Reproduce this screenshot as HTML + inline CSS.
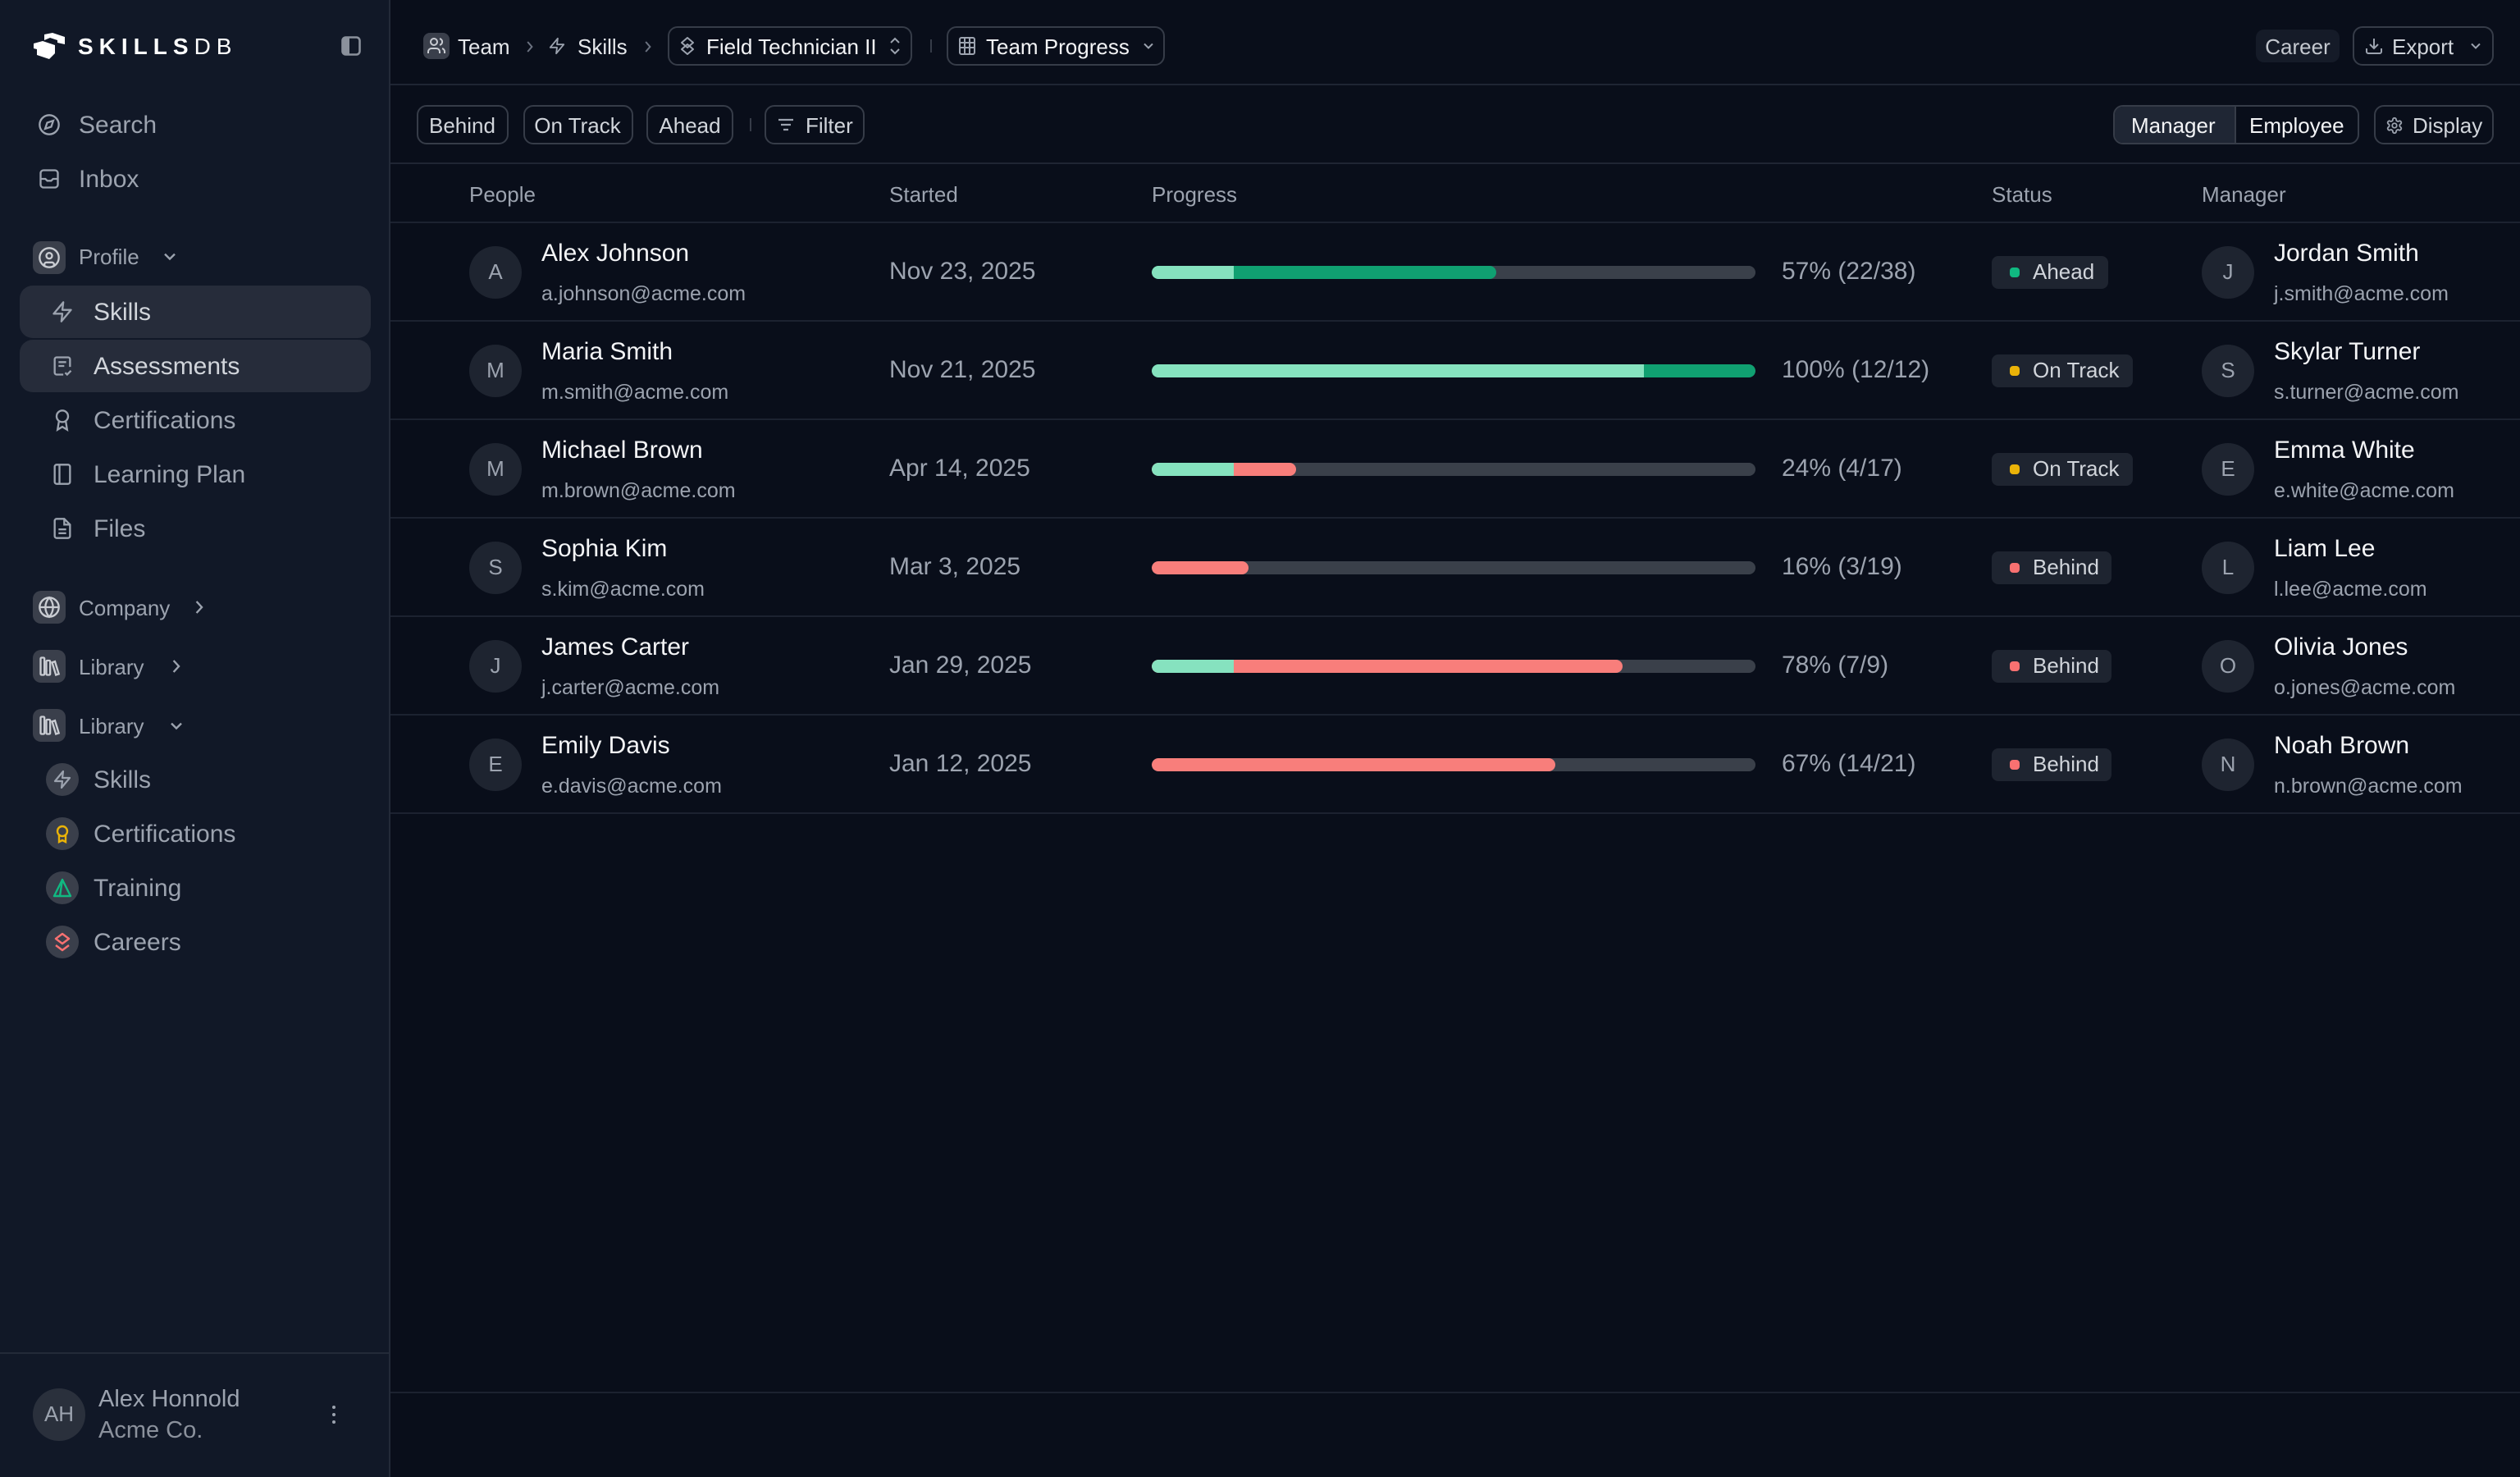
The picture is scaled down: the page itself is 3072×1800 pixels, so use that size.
<!DOCTYPE html>
<html><head><meta charset="utf-8">
<style>
html,body{margin:0;padding:0;background:#090e1a;}
body{width:3072px;height:1800px;overflow:hidden;position:relative;}
#app{position:absolute;left:0;top:0;width:1536px;height:900px;transform:scale(2);transform-origin:0 0;background:#090e1a;font-family:"Liberation Sans",sans-serif;color:#e5e7eb;overflow:hidden;}
.a{position:absolute;white-space:nowrap;}
.t{position:absolute;white-space:nowrap;line-height:20px;height:20px;margin-top:0.8px;}
.ln{position:absolute;background:#1c2230;height:1px;}
.btn{position:absolute;box-sizing:border-box;border:1px solid #363c48;border-radius:6px;height:24px;font-size:13px;color:#d1d5db;line-height:22px;}
.ib{position:absolute;width:20px;height:20px;border-radius:5px;background:#3a3f4b;}
.ib svg{position:absolute;left:3px;top:3px;}
.sc{position:absolute;width:20px;height:20px;border-radius:10px;background:#3a3f4b;left:28px;}
.sc svg{position:absolute;left:4px;top:4px;}
.av{position:absolute;width:32px;height:32px;border-radius:16px;background:#1e2430;color:#9ca3af;font-size:13px;text-align:center;line-height:32px;}
.nm{font-size:15px;color:#f3f4f6;}
.em{font-size:12.5px;color:#9ca3af;}
.gr{color:#9ca3af;}
.track{position:absolute;left:702px;width:367.5px;height:8px;border-radius:4px;background:#3a404a;overflow:hidden;}
.fill{position:absolute;left:0;top:0;height:8px;border-radius:4px;overflow:hidden;}
.lt{position:absolute;left:0;top:0;height:8px;background:#86e2bf;}
.badge{position:absolute;left:1214px;height:20px;border-radius:4px;background:#1e2430;font-size:13px;color:#d1d5db;line-height:20px;box-sizing:border-box;padding-left:25px;padding-right:8px;}
.badge i{position:absolute;left:11px;top:7px;width:6px;height:6px;border-radius:2px;}
</style></head><body><div id="app">

<!-- Sidebar -->
<div class="a" style="left:0;top:0;width:237px;height:900px;background:#111827;border-right:1px solid #232a38;"></div>
<div class="a" style="left:0;top:824px;width:237px;height:1px;background:#232a38;"></div>

<!-- Logo -->
<svg class="a" style="left:20px;top:20px" width="20" height="16" viewBox="0 0 40 32">
<path d="M14 2 L24 0 L39 5 L39 14 L30 12 L30 9 L21 6 L14 9 Z" fill="#fff"/>
<path d="M1 13 L12 10 L27 15 L27 25 L20 32 L5 27 L5 20 L1 19 Z" fill="#fff"/>
</svg>
<div class="t" style="left:47.5px;top:17.5px;font-size:14px;letter-spacing:3.5px;color:#fff;"><b>SKILLS</b>DB</div>
<svg class="a" style="left:208px;top:22px" width="12" height="12" viewBox="0 0 12 12"><rect x="0.75" y="0.75" width="10.5" height="10.5" rx="2" fill="none" stroke="#8b919c" stroke-width="1.3"/><rect x="1" y="1" width="4" height="10" fill="#8b919c"/></svg>

<!-- Search / Inbox -->
<svg class="a" style="left:23px;top:69px" width="14" height="14" viewBox="0 0 24 24" fill="none" stroke="#9ca3af" stroke-width="2"><circle cx="12" cy="12" r="10"/><polygon points="16.24 7.76 14.12 14.12 7.76 16.24 9.88 9.88 16.24 7.76"/></svg>
<div class="t gr" style="left:48px;top:66px;font-size:15px;">Search</div>
<svg class="a" style="left:23px;top:102px" width="14" height="14" viewBox="0 0 24 24" fill="none" stroke="#9ca3af" stroke-width="2"><rect x="3" y="3" width="18" height="18" rx="3"/><path d="M3 12h5l2 2h4l2-2h5"/></svg>
<div class="t gr" style="left:48px;top:99px;font-size:15px;">Inbox</div>

<!-- Profile -->
<div class="ib" style="left:20px;top:146.5px;"><svg width="14" height="14" viewBox="0 0 24 24" fill="none" stroke="#c9ccd2" stroke-width="2"><circle cx="12" cy="12" r="10"/><circle cx="12" cy="10" r="3"/><path d="M7 20.5V19a2 2 0 0 1 2-2h6a2 2 0 0 1 2 2v1.5"/></svg></div>
<div class="t gr" style="left:48px;top:146.5px;font-size:13px;">Profile</div>
<svg class="a" style="left:100px;top:154px" width="7" height="5" viewBox="0 0 7 5"><polyline points="0.5,0.8 3.5,3.8 6.5,0.8" fill="none" stroke="#9ca3af" stroke-width="1.2"/></svg>

<div class="a" style="left:12px;top:174px;width:214px;height:32px;border-radius:8px;background:#262c3a;"></div>
<div class="a" style="left:12px;top:207px;width:214px;height:32px;border-radius:8px;background:#262c3a;"></div>
<svg class="a" style="left:31px;top:183px" width="14" height="14" viewBox="0 0 24 24" fill="none" stroke="#9ca3af" stroke-width="2" stroke-linejoin="round"><path d="M13 2 3 14h9l-1 8 10-12h-9l1-8z"/></svg>
<div class="t" style="left:57px;top:180px;font-size:15px;color:#d1d5db;">Skills</div>
<svg class="a" style="left:31px;top:216px" width="14" height="14" viewBox="0 0 24 24" fill="none" stroke="#9ca3af" stroke-width="2"><path d="M20 13V5a2 2 0 0 0-2-2H6a2 2 0 0 0-2 2v14a2 2 0 0 0 2 2h7"/><path d="M8 8h8M8 12h6"/><path d="m15 19 2 2 4-4"/></svg>
<div class="t" style="left:57px;top:213px;font-size:15px;color:#d1d5db;">Assessments</div>
<svg class="a" style="left:31px;top:249px" width="14" height="14" viewBox="0 0 24 24" fill="none" stroke="#9ca3af" stroke-width="2"><circle cx="12" cy="8" r="6"/><path d="M15.5 12.9 17 22l-5-3-5 3 1.5-9.1"/></svg>
<div class="t gr" style="left:57px;top:246px;font-size:15px;">Certifications</div>
<svg class="a" style="left:31px;top:282px" width="14" height="14" viewBox="0 0 24 24" fill="none" stroke="#9ca3af" stroke-width="2"><rect x="4" y="2" width="16" height="20" rx="2"/><path d="M9 2v20"/></svg>
<div class="t gr" style="left:57px;top:279px;font-size:15px;">Learning Plan</div>
<svg class="a" style="left:31px;top:315px" width="14" height="14" viewBox="0 0 24 24" fill="none" stroke="#9ca3af" stroke-width="2"><path d="M14 2H6a2 2 0 0 0-2 2v16a2 2 0 0 0 2 2h12a2 2 0 0 0 2-2V8z"/><polyline points="14 2 14 8 20 8"/><line x1="16" y1="13" x2="8" y2="13"/><line x1="16" y1="17" x2="8" y2="17"/></svg>
<div class="t gr" style="left:57px;top:312px;font-size:15px;">Files</div>

<!-- Company / Library -->
<div class="ib" style="left:20px;top:360px;"><svg width="14" height="14" viewBox="0 0 24 24" fill="none" stroke="#c9ccd2" stroke-width="2"><circle cx="12" cy="12" r="10"/><line x1="2" y1="12" x2="22" y2="12"/><path d="M12 2a15 15 0 0 1 4 10 15 15 0 0 1-4 10 15 15 0 0 1-4-10 15 15 0 0 1 4-10z"/></svg></div>
<div class="t gr" style="left:48px;top:360px;font-size:13px;">Company</div>
<svg class="a" style="left:119px;top:366px" width="5" height="8" viewBox="0 0 5 8"><polyline points="0.8,0.5 4,4 0.8,7.5" fill="none" stroke="#9ca3af" stroke-width="1.2"/></svg>

<div class="ib" style="left:20px;top:396px;"><svg width="14" height="14" viewBox="0 0 24 24" fill="none" stroke="#c9ccd2" stroke-width="2"><rect x="3" y="3" width="4" height="18" rx="1"/><rect x="9" y="6" width="4" height="15" rx="1"/><path d="m15 8 3-1 4 13-3 1z"/></svg></div>
<div class="t gr" style="left:48px;top:396px;font-size:13px;">Library</div>
<svg class="a" style="left:105px;top:402px" width="5" height="8" viewBox="0 0 5 8"><polyline points="0.8,0.5 4,4 0.8,7.5" fill="none" stroke="#9ca3af" stroke-width="1.2"/></svg>

<div class="ib" style="left:20px;top:432px;"><svg width="14" height="14" viewBox="0 0 24 24" fill="none" stroke="#c9ccd2" stroke-width="2"><rect x="3" y="3" width="4" height="18" rx="1"/><rect x="9" y="6" width="4" height="15" rx="1"/><path d="m15 8 3-1 4 13-3 1z"/></svg></div>
<div class="t gr" style="left:48px;top:432px;font-size:13px;">Library</div>
<svg class="a" style="left:103.5px;top:439.5px" width="7" height="5" viewBox="0 0 7 5"><polyline points="0.5,0.8 3.5,3.8 6.5,0.8" fill="none" stroke="#9ca3af" stroke-width="1.2"/></svg>

<div class="sc" style="top:465px;"><svg width="12" height="12" viewBox="0 0 24 24" fill="none" stroke="#9ca3af" stroke-width="2.2" stroke-linejoin="round"><path d="M13 2 3 14h9l-1 8 10-12h-9l1-8z"/></svg></div>
<div class="t gr" style="left:57px;top:465px;font-size:15px;">Skills</div>
<div class="sc" style="top:498px;"><svg width="12" height="12" viewBox="0 0 24 24" fill="none" stroke="#eab308" stroke-width="2.4"><circle cx="12" cy="9" r="6"/><path d="M8 14v8l4-2 4 2v-8"/></svg></div>
<div class="t gr" style="left:57px;top:498px;font-size:15px;">Certifications</div>
<div class="sc" style="top:531px;"><svg width="12" height="12" viewBox="0 0 24 24" fill="none" stroke="#10b981" stroke-width="2.4" stroke-linejoin="round"><path d="M12 2 2 22h20z"/><path d="M12 2 9 22"/></svg></div>
<div class="t gr" style="left:57px;top:531px;font-size:15px;">Training</div>
<div class="sc" style="top:564px;"><svg width="12" height="12" viewBox="0 0 24 24" fill="none" stroke="#f87171" stroke-width="2.4" stroke-linejoin="round"><path d="M12 2 4 8l8 6 8-6z"/><path d="M4 16l8 6 8-6"/></svg></div>
<div class="t gr" style="left:57px;top:564px;font-size:15px;">Careers</div>

<!-- Footer -->
<div class="av" style="left:20px;top:846px;background:#2a303c;">AH</div>
<div class="t" style="left:60px;top:842px;font-size:14.5px;color:#9ca3af;">Alex Honnold</div>
<div class="t" style="left:60px;top:861.5px;font-size:14.5px;color:#8b919c;">Acme Co.</div>
<svg class="a" style="left:202px;top:856px" width="3" height="12" viewBox="0 0 3 12"><circle cx="1.5" cy="1.5" r="1" fill="#9ca3af"/><circle cx="1.5" cy="6" r="1" fill="#9ca3af"/><circle cx="1.5" cy="10.5" r="1" fill="#9ca3af"/></svg>

<!-- Top bar -->
<div class="ln" style="left:238px;top:51px;width:1298px;background:#1f2533;"></div>
<div class="ln" style="left:238px;top:99px;width:1298px;background:#1f2533;"></div>

<div class="a" style="left:258px;top:20px;width:16px;height:16px;border-radius:4px;background:#3a3f4b;"></div>
<svg class="a" style="left:260px;top:22px" width="12" height="12" viewBox="0 0 24 24" fill="none" stroke="#c9ccd2" stroke-width="2"><circle cx="9" cy="7" r="4"/><path d="M2 21v-2a4 4 0 0 1 4-4h6a4 4 0 0 1 4 4v2"/><path d="M16 3.1a4 4 0 0 1 0 7.8M22 21v-2a4 4 0 0 0-3-3.9"/></svg>
<div class="t" style="left:279px;top:18px;font-size:13px;color:#e5e7eb;">Team</div>
<svg class="a" style="left:321px;top:25px" width="4" height="7" viewBox="0 0 4 7"><polyline points="0.6,0.5 3.2,3.5 0.6,6.5" fill="none" stroke="#6b7280" stroke-width="1"/></svg>
<svg class="a" style="left:334px;top:22px" width="11" height="12" viewBox="0 0 24 24" fill="none" stroke="#9ca3af" stroke-width="2" stroke-linejoin="round"><path d="M13 2 3 14h9l-1 8 10-12h-9l1-8z"/></svg>
<div class="t" style="left:352px;top:18px;font-size:13px;color:#e5e7eb;">Skills</div>
<svg class="a" style="left:393px;top:25px" width="4" height="7" viewBox="0 0 4 7"><polyline points="0.6,0.5 3.2,3.5 0.6,6.5" fill="none" stroke="#6b7280" stroke-width="1"/></svg>

<div class="btn" style="left:406.5px;top:16px;width:149.5px;">
<svg class="a" style="left:5px;top:5px" width="12" height="12" viewBox="0 0 24 24" fill="none" stroke="#9ca3af" stroke-width="2" stroke-linejoin="round"><path d="M12 2 5 8l7 6 7-6z"/><path d="M5 16l7 6 7-6-7-6z"/></svg>
<span class="a" style="left:23px;top:0.5px;color:#f3f4f6;">Field Technician II</span>
<svg class="a" style="left:134px;top:5px" width="7" height="12" viewBox="0 0 7 12"><polyline points="1,4 3.5,1.5 6,4" fill="none" stroke="#9ca3af" stroke-width="1"/><polyline points="1,8 3.5,10.5 6,8" fill="none" stroke="#9ca3af" stroke-width="1"/></svg>
</div>
<div class="a" style="left:567px;top:24px;width:1px;height:8px;background:#363c48;"></div>
<div class="btn" style="left:577px;top:16px;width:133px;">
<svg class="a" style="left:6px;top:5px" width="11" height="12" viewBox="0 0 22 24" fill="none" stroke="#9ca3af" stroke-width="2"><rect x="2" y="2" width="18" height="20" rx="2"/><path d="M2 8h18M2 14h18M8 2v20M14 2v20"/></svg>
<span class="a" style="left:23px;top:0.5px;color:#f3f4f6;">Team Progress</span>
<svg class="a" style="left:119px;top:9px" width="6" height="4" viewBox="0 0 6 4"><polyline points="0.5,0.7 3,3.2 5.5,0.7" fill="none" stroke="#9ca3af" stroke-width="1"/></svg>
</div>

<div class="a" style="left:1375px;top:18px;width:51px;height:20px;border-radius:5px;background:#151b28;font-size:13px;color:#c4c8cf;line-height:21px;text-align:center;">Career</div>
<div class="btn" style="left:1434px;top:16px;width:86px;">
<svg class="a" style="left:6px;top:5px" width="12" height="12" viewBox="0 0 24 24" fill="none" stroke="#9ca3af" stroke-width="2"><path d="M21 15v4a2 2 0 0 1-2 2H5a2 2 0 0 1-2-2v-4"/><polyline points="7 10 12 15 17 10"/><line x1="12" y1="15" x2="12" y2="3"/></svg>
<span class="a" style="left:23px;top:0.5px;color:#d1d5db;">Export</span>
<svg class="a" style="left:71px;top:9px" width="6" height="4" viewBox="0 0 6 4"><polyline points="0.5,0.7 3,3.2 5.5,0.7" fill="none" stroke="#9ca3af" stroke-width="1"/></svg>
</div>

<!-- Filter bar -->
<div class="btn" style="left:254px;top:64px;width:55.5px;text-align:center;line-height:23px;">Behind</div>
<div class="btn" style="left:318.5px;top:64px;width:67px;text-align:center;line-height:23px;">On Track</div>
<div class="btn" style="left:394px;top:64px;width:53px;text-align:center;line-height:23px;">Ahead</div>
<div class="a" style="left:457px;top:72px;width:1px;height:8px;background:#363c48;"></div>
<div class="btn" style="left:466px;top:64px;width:61px;line-height:23px;">
<svg class="a" style="left:7px;top:6px" width="10" height="10" viewBox="0 0 10 10"><path d="M0.5 2h9M2 5h6M3.5 8h3" stroke="#9ca3af" stroke-width="1.1" fill="none"/></svg>
<span class="a" style="left:24px;top:0;">Filter</span>
</div>

<div class="btn" style="left:1288px;top:64px;width:150px;overflow:hidden;line-height:23px;">
<div class="a" style="left:0;top:0;width:73px;height:22px;background:#1f2634;"></div>
<div class="a" style="left:73px;top:0;width:1px;height:22px;background:#363c48;"></div>
<span class="a" style="left:10px;top:0;color:#f3f4f6;">Manager</span>
<span class="a" style="left:82px;top:0;color:#f3f4f6;">Employee</span>
</div>
<div class="btn" style="left:1446.5px;top:64px;width:73.5px;line-height:23px;">
<svg class="a" style="left:6px;top:5.5px" width="11" height="11" viewBox="0 0 24 24" fill="none" stroke="#9ca3af" stroke-width="2"><path d="M12.22 2h-.44a2 2 0 0 0-2 2v.18a2 2 0 0 1-1 1.73l-.43.25a2 2 0 0 1-2 0l-.15-.08a2 2 0 0 0-2.730.73l-.22.38a2 2 0 0 0 .73 2.73l.15.1a2 2 0 0 1 1 1.72v.51a2 2 0 0 1-1 1.74l-.15.09a2 2 0 0 0-.73 2.73l.22.38a2 2 0 0 0 2.73.73l.15-.08a2 2 0 0 1 2 0l.43.25a2 2 0 0 1 1 1.73V20a2 2 0 0 0 2 2h.44a2 2 0 0 0 2-2v-.18a2 2 0 0 1 1-1.73l.43-.25a2 2 0 0 1 2 0l.15.08a2 2 0 0 0 2.73-.73l.22-.39a2 2 0 0 0-.73-2.73l-.15-.08a2 2 0 0 1-1-1.74v-.5a2 2 0 0 1 1-1.74l.15-.09a2 2 0 0 0 .73-2.73l-.22-.38a2 2 0 0 0-2.73-.73l-.15.08a2 2 0 0 1-2 0l-.43-.25a2 2 0 0 1-1-1.73V4a2 2 0 0 0-2-2z"/><circle cx="12" cy="12" r="3"/></svg>
<span class="a" style="left:23px;top:0;color:#d1d5db;">Display</span>
</div>

<!-- Table header -->
<div class="t gr" style="left:286px;top:108px;font-size:13px;">People</div>
<div class="t gr" style="left:542px;top:108px;font-size:13px;">Started</div>
<div class="t gr" style="left:702px;top:108px;font-size:13px;">Progress</div>
<div class="t gr" style="left:1214px;top:108px;font-size:13px;">Status</div>
<div class="t gr" style="left:1342px;top:108px;font-size:13px;">Manager</div>
<div class="ln" style="left:238px;top:135px;width:1298px;"></div>
<div class="ln" style="left:238px;top:195px;width:1298px;"></div>
<div class="ln" style="left:238px;top:255px;width:1298px;"></div>
<div class="ln" style="left:238px;top:315px;width:1298px;"></div>
<div class="ln" style="left:238px;top:375px;width:1298px;"></div>
<div class="ln" style="left:238px;top:435px;width:1298px;"></div>
<div class="ln" style="left:238px;top:495px;width:1298px;"></div>
<div class="ln" style="left:238px;top:848px;width:1298px;"></div>

<!-- Row 1 (c=165.5) -->
<div class="av" style="left:286px;top:149.5px;">A</div>
<div class="t nm" style="left:330px;top:144px;">Alex Johnson</div>
<div class="t em" style="left:330px;top:168px;">a.johnson@acme.com</div>
<div class="t gr" style="left:542px;top:155.5px;font-size:15px;">Nov 23, 2025</div>
<div class="track" style="top:161.5px;"><div class="fill" style="width:209.5px;background:#10a071;"><div class="lt" style="width:50px;"></div></div></div>
<div class="t gr" style="left:1086px;top:155.5px;font-size:15px;">57% (22/38)</div>
<div class="badge" style="top:155.5px;"><i style="background:#10b981;"></i>Ahead</div>
<div class="av" style="left:1342px;top:149.5px;">J</div>
<div class="t nm" style="left:1386px;top:144px;">Jordan Smith</div>
<div class="t em" style="left:1386px;top:168px;">j.smith@acme.com</div>

<!-- Row 2 (c=225.5) -->
<div class="av" style="left:286px;top:209.5px;">M</div>
<div class="t nm" style="left:330px;top:204px;">Maria Smith</div>
<div class="t em" style="left:330px;top:228px;">m.smith@acme.com</div>
<div class="t gr" style="left:542px;top:215.5px;font-size:15px;">Nov 21, 2025</div>
<div class="track" style="top:221.5px;"><div class="fill" style="width:367.5px;background:#10a071;"><div class="lt" style="width:300px;"></div></div></div>
<div class="t gr" style="left:1086px;top:215.5px;font-size:15px;">100% (12/12)</div>
<div class="badge" style="top:215.5px;"><i style="background:#eab308;"></i>On Track</div>
<div class="av" style="left:1342px;top:209.5px;">S</div>
<div class="t nm" style="left:1386px;top:204px;">Skylar Turner</div>
<div class="t em" style="left:1386px;top:228px;">s.turner@acme.com</div>

<!-- Row 3 (c=285.5) -->
<div class="av" style="left:286px;top:269.5px;">M</div>
<div class="t nm" style="left:330px;top:264px;">Michael Brown</div>
<div class="t em" style="left:330px;top:288px;">m.brown@acme.com</div>
<div class="t gr" style="left:542px;top:275.5px;font-size:15px;">Apr 14, 2025</div>
<div class="track" style="top:281.5px;"><div class="fill" style="width:88px;background:#f87e7b;"><div class="lt" style="width:50px;"></div></div></div>
<div class="t gr" style="left:1086px;top:275.5px;font-size:15px;">24% (4/17)</div>
<div class="badge" style="top:275.5px;"><i style="background:#eab308;"></i>On Track</div>
<div class="av" style="left:1342px;top:269.5px;">E</div>
<div class="t nm" style="left:1386px;top:264px;">Emma White</div>
<div class="t em" style="left:1386px;top:288px;">e.white@acme.com</div>

<!-- Row 4 (c=345.5) -->
<div class="av" style="left:286px;top:329.5px;">S</div>
<div class="t nm" style="left:330px;top:324px;">Sophia Kim</div>
<div class="t em" style="left:330px;top:348px;">s.kim@acme.com</div>
<div class="t gr" style="left:542px;top:335.5px;font-size:15px;">Mar 3, 2025</div>
<div class="track" style="top:341.5px;"><div class="fill" style="width:59px;background:#f87e7b;"></div></div>
<div class="t gr" style="left:1086px;top:335.5px;font-size:15px;">16% (3/19)</div>
<div class="badge" style="top:335.5px;"><i style="background:#f87171;"></i>Behind</div>
<div class="av" style="left:1342px;top:329.5px;">L</div>
<div class="t nm" style="left:1386px;top:324px;">Liam Lee</div>
<div class="t em" style="left:1386px;top:348px;">l.lee@acme.com</div>

<!-- Row 5 (c=405.5) -->
<div class="av" style="left:286px;top:389.5px;">J</div>
<div class="t nm" style="left:330px;top:384px;">James Carter</div>
<div class="t em" style="left:330px;top:408px;">j.carter@acme.com</div>
<div class="t gr" style="left:542px;top:395.5px;font-size:15px;">Jan 29, 2025</div>
<div class="track" style="top:401.5px;"><div class="fill" style="width:287px;background:#f87e7b;"><div class="lt" style="width:50px;"></div></div></div>
<div class="t gr" style="left:1086px;top:395.5px;font-size:15px;">78% (7/9)</div>
<div class="badge" style="top:395.5px;"><i style="background:#f87171;"></i>Behind</div>
<div class="av" style="left:1342px;top:389.5px;">O</div>
<div class="t nm" style="left:1386px;top:384px;">Olivia Jones</div>
<div class="t em" style="left:1386px;top:408px;">o.jones@acme.com</div>

<!-- Row 6 (c=465.5) -->
<div class="av" style="left:286px;top:449.5px;">E</div>
<div class="t nm" style="left:330px;top:444px;">Emily Davis</div>
<div class="t em" style="left:330px;top:468px;">e.davis@acme.com</div>
<div class="t gr" style="left:542px;top:455.5px;font-size:15px;">Jan 12, 2025</div>
<div class="track" style="top:461.5px;"><div class="fill" style="width:246px;background:#f87e7b;"></div></div>
<div class="t gr" style="left:1086px;top:455.5px;font-size:15px;">67% (14/21)</div>
<div class="badge" style="top:455.5px;"><i style="background:#f87171;"></i>Behind</div>
<div class="av" style="left:1342px;top:449.5px;">N</div>
<div class="t nm" style="left:1386px;top:444px;">Noah Brown</div>
<div class="t em" style="left:1386px;top:468px;">n.brown@acme.com</div>

</div></body></html>
